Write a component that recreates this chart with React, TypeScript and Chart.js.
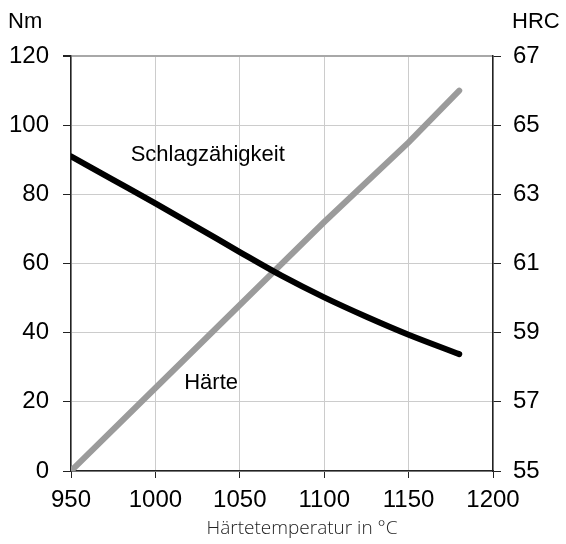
import React, { useEffect, useRef } from "react";
import { Chart, registerables } from "chart.js";

Chart.register(...registerables);

const temperatures = [950, 975, 1000, 1025, 1050, 1075, 1100, 1125, 1150, 1180];
const impactNm = [91, 84.2, 77.4, 70.4, 63.3, 56.4, 50.2, 44.6, 39.4, 33.8];
const hardnessTemps = [950, 1000, 1050, 1100, 1150, 1180];
const hardnessHRC = [55, 57.4, 59.8, 62.2, 64.5, 66];
const leftTicks = [0, 20, 40, 60, 80, 100, 120];
const rightTicks = [55, 57, 59, 61, 63, 65, 67];
const xTicks = [950, 1000, 1050, 1100, 1150, 1200];

const FONT = "'Liberation Sans', Arial, sans-serif";

const labelsPlugin = {
  id: "textLabels",
  afterDraw(chart: any) {
    const ctx = chart.ctx;
    const x = chart.scales.x;
    const y = chart.scales.y;
    ctx.save();
    ctx.fillStyle = "#000";
    ctx.textBaseline = "middle";
    ctx.font = `22px ${FONT}`;
    ctx.textAlign = "left";
    ctx.fillText("Nm", 8, 22);
    ctx.fillText("HRC", 512, 22);
    ctx.textAlign = "center";
    ctx.fillText("Schlagzähigkeit", x.getPixelForValue(1031), y.getPixelForValue(91.4));
    ctx.fillText("Härte", x.getPixelForValue(1033), y.getPixelForValue(25.4));
    ctx.font = `300 19px 'Open Sans', sans-serif`;
    ctx.fillStyle = "#222";
    ctx.fillText("Härtetemperatur in °C", 302, 529);
    ctx.restore();
  },
};

export default function App() {
  const ref = useRef<HTMLCanvasElement | null>(null);
  useEffect(() => {
    document.body.style.margin = "0";
    const canvas = ref.current!;
    const chart = new Chart(canvas, {
      type: "line",
      data: {
        datasets: [
          {
            label: "Härte",
            data: hardnessTemps.map((t, i) => ({ x: t, y: hardnessHRC[i] })),
            borderColor: "#9b9b9b",
            borderWidth: 6,
            pointRadius: 0,
            tension: 0,
            borderCapStyle: "round",
            yAxisID: "y2",
            order: 2,
          },
          {
            label: "Schlagzähigkeit",
            data: temperatures.map((t, i) => ({ x: t, y: impactNm[i] })),
            borderColor: "#000",
            borderWidth: 6,
            pointRadius: 0,
            cubicInterpolationMode: "monotone",
            borderCapStyle: "round",
            yAxisID: "y",
            order: 1,
          },
        ],
      },
      plugins: [labelsPlugin],
      options: {
        responsive: false,
        animation: false,
        devicePixelRatio: 1,
        layout: { padding: { top: 56, left: 0, right: 0, bottom: 0 } },
        plugins: { legend: { display: false }, tooltip: { enabled: false } },
        scales: {
          x: {
            type: "linear",
            min: 950,
            max: 1200,
            afterBuildTicks: (s: any) => {
              s.ticks = xTicks.map((v) => ({ value: v }));
            },
            afterFit: (s: any) => {
              s.height = 73;
            },
            ticks: {
              color: "#000",
              font: { family: FONT, size: 24 },
              padding: 8,
              maxRotation: 0,
              autoSkip: false,
              callback: (v: any) => String(v),
            },
            grid: { color: "#cccccc", lineWidth: 1, tickLength: 7, tickColor: "#222" },
            border: { color: "#222", width: 1.5 },
          },
          y: {
            type: "linear",
            position: "left",
            min: 0,
            max: 120,
            afterBuildTicks: (s: any) => {
              s.ticks = leftTicks.map((v) => ({ value: v }));
            },
            afterFit: (s: any) => {
              s.width = 71;
            },
            ticks: { color: "#000", font: { family: FONT, size: 24 }, padding: 14, autoSkip: false },
            grid: {
              color: (c: any) => (c.tick && c.tick.value === 120 ? "#a8a8a8" : "#cccccc"),
              lineWidth: (c: any) => (c.tick && c.tick.value === 120 ? 2 : 1),
              tickLength: 8,
              tickColor: "#222",
            },
            border: { color: "#222", width: 1.5 },
          },
          y2: {
            type: "linear",
            position: "right",
            min: 55,
            max: 67,
            afterBuildTicks: (s: any) => {
              s.ticks = rightTicks.map((v) => ({ value: v }));
            },
            afterFit: (s: any) => {
              s.width = 73;
            },
            ticks: { color: "#000", font: { family: FONT, size: 24 }, padding: 12, autoSkip: false },
            grid: { drawOnChartArea: false, tickLength: 8, tickColor: "#222", color: "#222" },
            border: { color: "#222", width: 1.5 },
          },
        },
      },
    } as any);
    return () => chart.destroy();
  }, []);
  return (
    <div style={{ width: 566, height: 544 }}>
      <canvas ref={ref} width={566} height={544} style={{ display: "block" }} />
    </div>
  );
}
